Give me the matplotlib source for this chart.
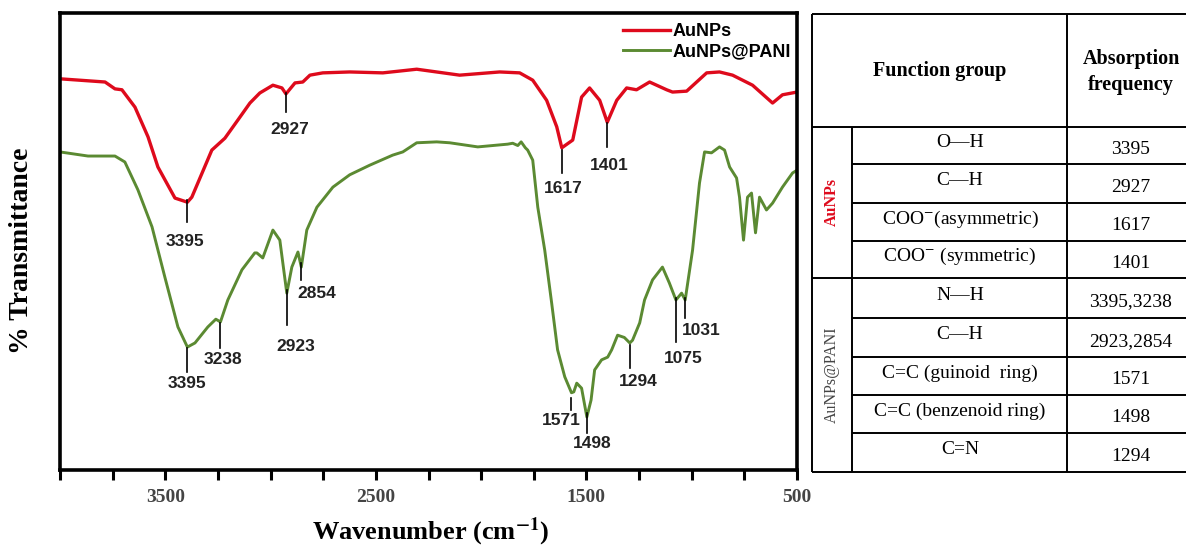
import numpy as np
import matplotlib.pyplot as plt

plt.rcParams['font.family'] = ['Liberation Sans', 'DejaVu Sans']
plt.rcParams['mathtext.fontset'] = 'stix'

# FTIR spectra (wavenumber cm-1, transmittance in arbitrary %)
red_wn = [4000, 3786, 3739, 3706, 3644, 3582, 3535, 3454, 3395, 3374, 3326, 3279, 3217, 3155,
          3098, 3051, 2989, 2946, 2927, 2884, 2847, 2813, 2752, 2624, 2467, 2386, 2306, 2149,
          2102, 1912, 1817, 1755, 1689, 1641, 1617, 1565, 1523, 1485, 1437, 1401, 1356, 1309,
          1262, 1200, 1119, 1091, 1024, 929, 868, 806, 711, 616, 569, 500]
red_T = [85.6, 84.9, 83.4, 83.2, 79.4, 72.9, 66.3, 59.5, 58.6, 59.7, 64.9, 70.0, 72.6, 76.6,
         80.3, 82.5, 84.2, 83.6, 82.3, 84.7, 84.9, 86.4, 86.9, 87.1, 86.9, 87.3, 87.7, 86.7,
         86.4, 87.1, 86.9, 85.3, 80.9, 75.1, 70.5, 72.2, 81.6, 83.6, 80.9, 76.1, 80.9, 83.6,
         83.2, 84.9, 83.2, 82.7, 82.9, 86.9, 87.1, 86.4, 84.2, 80.3, 82.1, 82.7]

green_wn = [4000, 3867, 3739, 3692, 3630, 3563, 3502, 3440, 3395, 3359, 3298, 3260, 3238, 3203,
            3136, 3075, 3065, 3037, 2989, 2956, 2923, 2899, 2870, 2854, 2828, 2780, 2704, 2624,
            2529, 2420, 2372, 2306, 2211, 2149, 2016, 1874, 1850, 1826, 1810, 1790, 1779, 1755,
            1731, 1698, 1665, 1637, 1603, 1571, 1560, 1546, 1523, 1498, 1478, 1461, 1428, 1399,
            1380, 1352, 1320, 1294, 1281, 1247, 1224, 1186, 1139, 1106, 1075, 1048, 1031, 996,
            963, 939, 906, 868, 844, 820, 787, 773, 754, 735, 716, 697, 678, 645, 616, 569, 521, 500]
green_T = [69.6, 68.7, 68.7, 67.4, 61.3, 53.2, 42.2, 31.3, 26.9, 27.8, 31.3, 33.0, 32.4, 37.2,
           43.8, 47.5, 47.5, 46.4, 52.5, 50.3, 38.7, 44.4, 47.7, 44.4, 52.5, 57.5, 61.9, 64.6,
           66.7, 68.9, 69.6, 71.6, 71.8, 71.6, 70.7, 71.3, 71.5, 71.0, 71.8, 70.5, 70.0, 67.8,
           57.5, 48.1, 36.5, 26.3, 20.4, 16.9, 17.1, 19.0, 17.9, 11.6, 15.3, 21.9, 24.1, 24.7,
           26.3, 29.5, 29.0, 27.8, 28.4, 32.2, 37.2, 41.6, 44.4, 40.9, 37.2, 38.7, 37.2, 48.1,
           62.8, 69.6, 69.4, 70.7, 70.0, 66.3, 63.9, 59.7, 50.3, 59.7, 60.6, 51.9, 59.7, 56.9,
           58.4, 61.9, 65.0, 65.6]

# peak labels: value, stick top, stick bottom, label x, label y
peaks = [3395, 2927, 1617, 1401, 3395, 3238, 2923, 2854, 1571, 1498, 1294, 1075, 1031]
stick_top = [59.1, 82.5, 70.0, 75.9, 26.7, 32.2, 39.4, 45.3, 15.8, 12.5, 27.4, 37.6, 37.6]
stick_bot = [54.3, 78.3, 65.0, 70.7, 21.4, 26.7, 31.7, 41.6, 13.1, 8.1, 22.3, 28.0, 33.3]
label_x = [3406, 2908, 1608, 1390, 3397, 3226, 2880, 2780, 1617, 1475, 1252, 1038, 953]
label_y = [50.1, 74.4, 61.7, 66.7, 19.0, 24.1, 27.1, 38.7, 10.9, 5.9, 19.3, 24.5, 30.6]

# table content
groups = ['AuNPs', 'AuNPs@PANI']
func_groups = ['O\u2014H', 'C\u2014H', 'COO$^{-}$(asymmetric)', 'COO$^{-}$ (symmetric)',
               'N\u2014H', 'C\u2014H', 'C=C (guinoid  ring)', 'C=C (benzenoid ring)', 'C=N']
freqs = ['3395', '2927', '1617', '1401', '3395,3238', '2923,2854', '1571', '1498', '1294']

RED = '#de0a1c'
GREEN = '#5b8a32'

fig = plt.figure(figsize=(11.86, 5.49), dpi=100)
ax = fig.add_axes([60 / 1186, 79 / 549, 737 / 1186, 457 / 549])

ax.plot(red_wn, red_T, color=RED, lw=2.4, label='AuNPs')
ax.plot(green_wn, green_T, color=GREEN, lw=2.1, label='AuNPs@PANI')

for p, t, b, lx, ly in zip(peaks, stick_top, stick_bot, label_x, label_y):
    ax.plot([p, p], [t, b], color='k', lw=1.2)
    ax.text(lx, ly, str(p), ha='center', va='center', fontsize=12.5,
            fontweight='bold', color='#222222')

ax.set_xlim(4000, 500)
ax.set_ylim(0, 100)
ax.set_yticks([])
ax.set_xticks([3500, 2500, 1500, 500])
ax.set_xticks(np.arange(500, 4001, 250), minor=True)
ax.tick_params(which='both', axis='x', direction='out', length=7, width=2.2, pad=7)
for lab in ax.get_xticklabels():
    lab.set_fontfamily('Liberation Serif')
    lab.set_fontweight('bold')
    lab.set_fontsize(14)
    lab.set_color('#444444')
for s in ax.spines.values():
    s.set_linewidth(2.6)

ax.legend(loc='upper right', bbox_to_anchor=(0.992, 0.978), frameon=False,
          prop=dict(family='Liberation Sans', weight='bold', size=13),
          handlelength=2.6, handletextpad=0.15, labelspacing=0.2,
          borderaxespad=0, borderpad=0)

fig.text(22 / 1186, 1 - 251 / 549, '% Transmittance', rotation=90, ha='center', va='center',
         fontfamily='Liberation Serif', fontweight='bold', fontsize=20)
fig.text(431 / 1186, 1 - 532 / 549, r'Wavenumber (cm$^{\mathbf{-1}}$)', ha='center', va='center',
         fontfamily='Liberation Serif', fontweight='bold', fontsize=19)

# table drawn in pixel coordinates
tax = fig.add_axes([0, 0, 1, 1])
tax.set_xlim(0, 1186)
tax.set_ylim(549, 0)
tax.axis('off')

col_x = [812, 852, 1067, 1195]
row_y = [14, 127, 164, 203, 241, 278, 318, 357, 395, 433, 472]
lw = 1.4
tax.hlines([14, 127, 278, 472], col_x[0], col_x[3], color='k', lw=lw)
tax.hlines([164, 203, 241, 318, 357, 395, 433], col_x[1], col_x[3], color='k', lw=lw)
tax.vlines([col_x[0], col_x[2]], 14, 472, color='k', lw=lw)
tax.vlines(col_x[1], 127, 472, color='k', lw=lw)

serif = 'Liberation Serif'
tax.text((col_x[0] + col_x[2]) / 2, 71, 'Function group', ha='center', va='center',
         fontfamily=serif, fontweight='bold', fontsize=14.5)
tax.text(1131, 72, 'Absorption\nfrequency', ha='center', va='center', linespacing=1.35,
         fontfamily=serif, fontweight='bold', fontsize=14.5)

for i in range(len(func_groups)):
    yc = (row_y[i + 1] + row_y[i + 2]) / 2
    tax.text(960, yc - 3, func_groups[i], ha='center', va='center', fontfamily=serif, fontsize=14)
    tax.text(1131, yc + 4, freqs[i], ha='center', va='center', fontfamily=serif, fontsize=14)

tax.text(832, (row_y[1] + row_y[5]) / 2, groups[0], rotation=90, ha='center', va='center',
         fontfamily=serif, fontweight='bold', fontsize=11.5, color=RED)
tax.text(832, (row_y[5] + row_y[10]) / 2, groups[1], rotation=90, ha='center', va='center',
         fontfamily=serif, fontsize=11.5, color='#444444')

fig.savefig('out.png', dpi=100)
